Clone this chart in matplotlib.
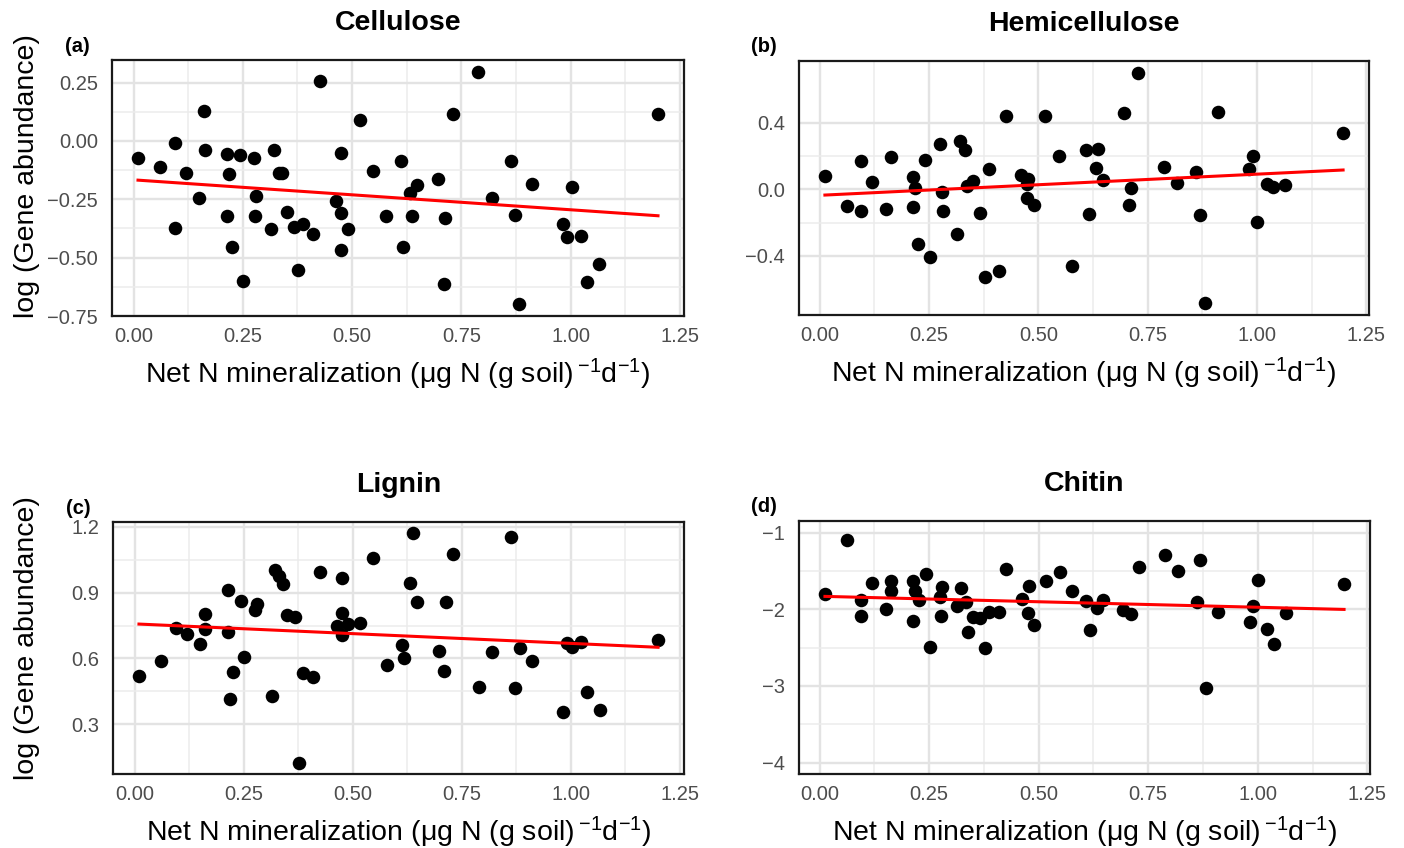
import numpy as np
import matplotlib
matplotlib.use("Agg")
import matplotlib.pyplot as plt

plt.rcParams['font.family'] = ['Liberation Sans', 'DejaVu Sans']
plt.rcParams['mathtext.fontset'] = 'custom'
plt.rcParams['mathtext.rm'] = 'Liberation Sans'
plt.rcParams['mathtext.it'] = 'Liberation Sans:italic'
plt.rcParams['mathtext.bf'] = 'Liberation Sans:bold'

# ---- data ----
cell_x = [0.010, 0.060, 0.095, 0.120, 0.095, 0.150, 0.162, 0.163, 0.213, 0.218,
          0.213, 0.226, 0.243, 0.251, 0.275, 0.281, 0.278, 0.315, 0.322, 0.333,
          0.340, 0.350, 0.366, 0.387, 0.376, 0.410, 0.426, 0.463, 0.475, 0.475,
          0.475, 0.491, 0.517, 0.547, 0.578, 0.612, 0.617, 0.632, 0.648, 0.638,
          0.697, 0.713, 0.710, 0.731, 0.789, 0.819, 0.863, 0.872, 0.883, 0.912,
          0.983, 0.991, 1.003, 1.024, 1.066, 1.038, 1.200]
cell_y = [-0.074, -0.111, -0.009, -0.136, -0.374, -0.244, 0.129, -0.039, -0.057, -0.140,
          -0.323, -0.453, -0.061, -0.599, -0.071, -0.236, -0.323, -0.377, -0.039, -0.137,
          -0.137, -0.304, -0.367, -0.354, -0.551, -0.397, 0.256, -0.257, -0.053, -0.310,
          -0.467, -0.377, 0.089, -0.127, -0.323, -0.084, -0.454, -0.221, -0.187, -0.323,
          -0.161, -0.329, -0.613, 0.114, 0.297, -0.243, -0.087, -0.316, -0.700, -0.184,
          -0.356, -0.411, -0.197, -0.409, -0.529, -0.603, 0.114]

hemi_x = [0.012, 0.062, 0.095, 0.095, 0.119, 0.151, 0.163, 0.214, 0.214, 0.217,
          0.226, 0.242, 0.252, 0.275, 0.279, 0.282, 0.313, 0.322, 0.333, 0.338,
          0.350, 0.366, 0.377, 0.387, 0.410, 0.426, 0.461, 0.477, 0.475, 0.475,
          0.490, 0.516, 0.548, 0.576, 0.609, 0.636, 0.616, 0.631, 0.647, 0.696,
          0.711, 0.708, 0.729, 0.788, 0.818, 0.861, 0.869, 0.881, 0.910, 0.982,
          0.990, 1.001, 1.022, 1.037, 1.064, 1.197]
hemi_y = [0.082, -0.101, -0.133, 0.173, 0.042, -0.121, 0.195, 0.074, -0.109, 0.006,
          -0.326, 0.179, -0.404, 0.274, -0.014, -0.129, -0.266, 0.288, 0.237, 0.022,
          0.052, -0.145, -0.527, 0.125, -0.489, 0.439, 0.085, 0.060, 0.034, -0.050,
          -0.095, 0.443, 0.203, -0.463, 0.235, 0.245, -0.147, 0.129, 0.056, 0.457,
          0.008, -0.093, 0.702, 0.133, 0.036, 0.103, -0.157, -0.686, 0.467, 0.125,
          0.201, -0.197, 0.034, 0.012, 0.026, 0.336]

lig_x = [0.010, 0.060, 0.095, 0.120, 0.150, 0.162, 0.162, 0.213, 0.213, 0.218,
         0.226, 0.243, 0.251, 0.275, 0.281, 0.315, 0.322, 0.330, 0.340, 0.350,
         0.368, 0.376, 0.387, 0.410, 0.426, 0.463, 0.475, 0.475, 0.476, 0.489,
         0.517, 0.547, 0.578, 0.612, 0.617, 0.632, 0.638, 0.648, 0.697, 0.710,
         0.713, 0.731, 0.789, 0.819, 0.863, 0.872, 0.883, 0.912, 0.983, 0.991,
         1.003, 1.024, 1.038, 1.066, 1.200]
lig_y = [0.522, 0.590, 0.737, 0.710, 0.667, 0.733, 0.803, 0.912, 0.722, 0.415,
         0.538, 0.861, 0.607, 0.822, 0.846, 0.430, 1.002, 0.977, 0.938, 0.799,
         0.791, 0.125, 0.534, 0.517, 0.992, 0.746, 0.968, 0.809, 0.707, 0.755,
         0.761, 1.056, 0.569, 0.659, 0.602, 0.944, 1.170, 0.857, 0.632, 0.543,
         0.858, 1.078, 0.468, 0.631, 1.153, 0.465, 0.649, 0.590, 0.355, 0.670,
         0.652, 0.676, 0.445, 0.366, 0.682]

chit_x = [0.012, 0.062, 0.095, 0.095, 0.119, 0.151, 0.163, 0.163, 0.214, 0.217,
          0.214, 0.226, 0.242, 0.252, 0.275, 0.279, 0.278, 0.313, 0.322, 0.333,
          0.338, 0.350, 0.366, 0.377, 0.387, 0.410, 0.426, 0.461, 0.477, 0.475,
          0.490, 0.516, 0.548, 0.576, 0.609, 0.616, 0.634, 0.647, 0.692, 0.711,
          0.729, 0.788, 0.818, 0.861, 0.869, 0.881, 0.910, 0.982, 0.990, 1.001,
          1.022, 1.037, 1.064, 1.197]
chit_y = [-1.807, -1.103, -1.880, -2.086, -1.657, -2.000, -1.635, -1.764, -1.627, -1.764,
          -2.150, -1.880, -1.545, -2.494, -1.845, -1.708, -2.094, -1.961, -1.730, -1.901,
          -2.300, -2.107, -2.116, -2.511, -2.043, -2.043, -1.476, -1.867, -1.695, -2.052,
          -2.206, -1.635, -1.511, -1.768, -1.893, -2.270, -1.983, -1.880, -2.017, -2.064,
          -1.455, -1.288, -1.498, -1.901, -1.365, -3.026, -2.043, -2.163, -1.961, -1.618,
          -2.262, -2.451, -2.056, -1.670]

titles = ["Cellulose", "Hemicellulose", "Lignin", "Chitin"]
tags = ["(a)", "(b)", "(c)", "(d)"]
xticks = [0.0, 0.25, 0.5, 0.75, 1.0, 1.25]
xtick_labels = ["0.00", "0.25", "0.50", "0.75", "1.00", "1.25"]
yticks_all = [[-0.75, -0.5, -0.25, 0.0, 0.25],
              [-0.4, 0.0, 0.4],
              [0.3, 0.6, 0.9, 1.2],
              [-4, -3, -2, -1]]
ytick_fmt = ["{:.2f}", "{:.1f}", "{:.1f}", "{:.0f}"]

W, H = 1404, 848
fig = plt.figure(figsize=(W / 100, H / 100), dpi=100)

def rect(l, t, r, b):
    return [l / W, 1 - b / H, (r - l) / W, (b - t) / H]

boxes = [(112, 60, 684, 316), (799, 61, 1369, 315),
         (113, 522, 684, 774), (799, 521, 1370, 774)]
xs = [cell_x, hemi_x, lig_x, chit_x]
ys = [cell_y, hemi_y, lig_y, chit_y]

xlab = r'Net N mineralization ($\mathrm{\mu}$g N (g soil)$\,^{-1}$d$^{-1}$)'

for i in range(4):
    l, t, r, b = boxes[i]
    ax = fig.add_axes(rect(l, t, r, b))
    x = np.array(xs[i])
    y = np.array(ys[i])

    ax.scatter(x, y, s=95, color='black', zorder=3, linewidths=0)
    k, c0 = np.polyfit(x, y, 1)
    xl = np.array([x.min(), x.max()])
    ax.plot(xl, k * xl + c0, color='red', lw=2.2, zorder=4)

    # ggplot-like 5% expansion
    xr = x.max() - x.min()
    ax.set_xlim(x.min() - 0.05 * xr, x.max() + 0.05 * xr)
    if i == 3:
        ax.set_ylim(-4.15, -0.85)
    else:
        yr = y.max() - y.min()
        ax.set_ylim(y.min() - 0.05 * yr, y.max() + 0.05 * yr)

    yt = yticks_all[i]
    ax.set_xticks(xticks)
    ax.set_xticklabels(xtick_labels)
    ax.set_yticks(yt)
    ax.set_yticklabels([ytick_fmt[i].format(v).replace('-', '\u2212') for v in yt])
    ax.set_xticks([v + 0.125 for v in xticks[:-1]], minor=True)
    ax.set_yticks([(yt[j] + yt[j + 1]) / 2 for j in range(len(yt) - 1)], minor=True)
    ax.grid(True, which='major', color='#E3E3E3', lw=1.7, zorder=0)
    ax.grid(True, which='minor', color='#ECECEC', lw=1.1, zorder=0)
    ax.set_axisbelow(True)
    ax.tick_params(which='both', length=0, labelsize=14.5, labelcolor='#4D4D4D')
    ax.tick_params(axis='y', pad=10)
    ax.tick_params(axis='x', pad=8)
    for s in ax.spines.values():
        s.set_linewidth(1.6)
        s.set_color('#1a1a1a')

    cx = (l + r) / 2
    fig.text(cx / W, 1 - (t - 37) / H, titles[i], ha='center', va='center',
             fontsize=20.5, fontweight='bold')
    fig.text((l - 35) / W, 1 - (t - 14) / H, tags[i], ha='center', va='center',
             fontsize=14.5, fontweight='bold')
    fig.text(cx / W, 1 - (b + 58) / H, xlab, ha='center', va='center', fontsize=20.5)

fig.text(27 / W, 1 - 176 / H, 'log (Gene abundance)', rotation=90,
         ha='center', va='center', fontsize=20.5)
fig.text(27 / W, 1 - 638 / H, 'log (Gene abundance)', rotation=90,
         ha='center', va='center', fontsize=20.5)

fig.savefig('out.png', dpi=100)
